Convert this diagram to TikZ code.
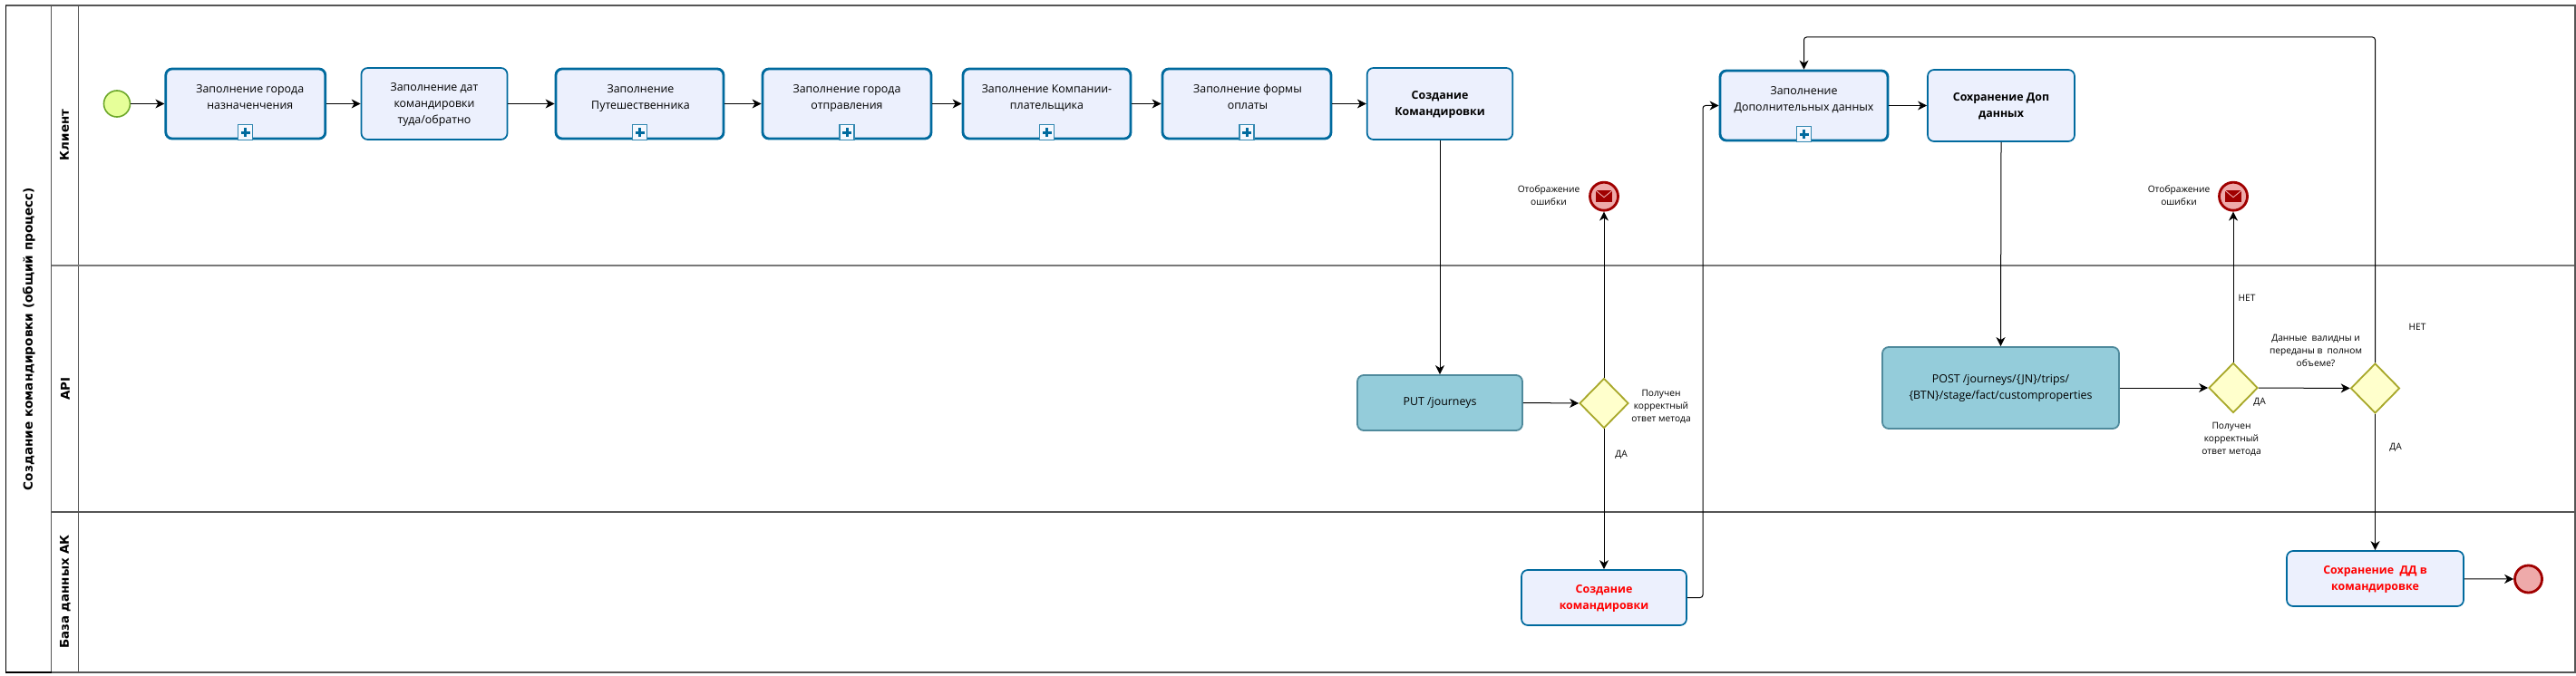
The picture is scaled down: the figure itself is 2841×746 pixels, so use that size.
\documentclass[tikz,border=0pt]{standalone}
\usepackage{fontspec}
\setmainfont{Open Sans}
\newfontfamily\hdr{DejaVu Sans}
\usetikzlibrary{arrows.meta,shapes.geometric,calc}
\definecolor{tb}{HTML}{006A9E}
\definecolor{tf}{HTML}{ECF0FD}
\definecolor{af}{HTML}{94CCDA}
\definecolor{ab}{HTML}{4F8A9C}
\definecolor{gf}{HTML}{FFFFCC}
\definecolor{gb}{HTML}{A8A82A}
\definecolor{sf}{HTML}{E6FF99}
\definecolor{sb}{HTML}{6DA82A}
\definecolor{ef}{HTML}{EEAAAA}
\definecolor{eb}{HTML}{A00000}
\definecolor{ln}{HTML}{555555}
% #1 doubled x shift, #2 doubled y lift, #3 lines
\newcommand\up[3]{\hspace*{#1pt}\begin{tabular}{@{}c@{}}#3\\[#2pt]\end{tabular}}
\tikzset{
 x=1pt,y=-1pt,
 basebox/.style={rectangle,rounded corners=7pt,fill=tf,draw=tb,inner sep=0pt,font=\fontsize{12.4}{18}\selectfont},
 subtask/.style={basebox,line width=2.8pt,minimum height=77pt},
 plaintask/.style={basebox,line width=1.7pt,minimum height=79pt},
 apitask/.style={basebox,fill=af,draw=ab,line width=1.8pt},
 marker/.style={rectangle,fill=tf!50!white,draw=tb!80,line width=1.3pt,minimum width=16pt,minimum height=17pt,inner sep=0pt},
 gate/.style={diamond,fill=gf,draw=gb,line width=1.8pt,inner sep=0pt,minimum width=54pt,minimum height=55pt},
 startev/.style={circle,fill=sf,draw=sb,line width=1.6pt,minimum size=29pt,inner sep=0pt},
 endev/.style={circle,fill=ef,draw=eb,line width=2.8pt,minimum size=30pt,inner sep=0pt},
 flow/.style={line width=1pt,draw=black,-{Stealth[length=10pt,width=10pt,inset=3pt]}},
 flowthin/.style={flow,rounded corners=3pt},
 note/.style={inner sep=0pt,align=center,font=\fontsize{10.2}{14}\selectfont},
 lanehead/.style={rotate=90,inner sep=0pt,font=\hdr\bfseries\fontsize{13.4}{15}\selectfont},
 lane/.style={draw=ln,line width=1.1pt},
}
\begin{document}
\begin{tikzpicture}
\useasboundingbox (0,0) rectangle (2841,746);
\fill[white] (0,0) rectangle (2841,746);
% pool and lanes
\coordinate (tl) at (6.5,6); \coordinate (br) at (2840,742);
\draw[lane] (56.7,6) -- (56.7,742);
\draw[lane] (86.7,6) -- (86.7,742);
\draw[draw=black!53,line width=2pt] (56.7,293) -- (2840,293);
\draw[lane] (56.7,565) -- (2840,565);
\draw[lane] (tl) rectangle (br);
\draw[black,line width=1.2pt] (6.5,6) -- (6.5,742) -- (56.7,742);
\node[rotate=90,inner sep=0pt,font=\hdr\bfseries\fontsize{13.6}{15}\selectfont] (pool) at (32,374) {Создание командировки (общий процесс)};
\node[lanehead] (l1) at (71,149) {Клиент};
\node[lanehead] (l2) at (72,429) {API};
\node[lanehead] (l3) at (72,653) {База данных АК};
% client lane
\node[startev] (start) at (129,114.5) {};
\node[subtask,minimum width=176pt] (t1) at (270.8,114.5) {\up{10}{13}{Заполнение города\\назначенчения}};
\node[plaintask,minimum width=161pt] (t2) at (479,114.5) {\up{0}{0}{Заполнение дат\\командировки\\туда/обратно}};
\node[subtask,minimum width=185pt] (t3) at (705.5,114.5) {\up{2}{13}{Заполнение\\Путешественника}};
\node[subtask,minimum width=186pt] (t4) at (934,114.5) {\up{0}{13}{Заполнение города\\отправления}};
\node[subtask,minimum width=185pt] (t5) at (1154.5,114.5) {\up{0}{13}{Заполнение Компании-\\плательщика}};
\node[subtask,minimum width=186pt] (t6) at (1375,114.5) {\up{2}{13}{Заполнение формы\\оплаты}};
\node[plaintask,minimum width=160.5pt] (t7) at (1588,114.5) {\up{0}{0}{\textbf{Создание}\\\textbf{Командировки}}};
\node[subtask,minimum width=185pt] (dop) at (1989.5,116.5) {\up{0}{13}{Заполнение\\Дополнительных данных}};
\node[plaintask,minimum width=162pt] (sv) at (2207,116.5) {\up{0}{0}{\textbf{Сохранение Доп}\\\textbf{данных}}};
\foreach \t in {t1,t3,t4,t5,t6,dop}{\node[marker,above=-1pt] (m\t) at (\t.south) {};
 \fill[tb] ($(m\t)+(-1.5,-5)$) rectangle ($(m\t)+(1.5,5)$);
 \fill[tb] ($(m\t)+(-5,-1.5)$) rectangle ($(m\t)+(5,1.5)$);}
% error events
\foreach \n/\x in {e1/1769,e2/2463}{
 \node[endev,minimum size=31pt] (\n) at (\x,216.7) {};
 \fill[eb] ($(\n)+(-9,-6.5)$) rectangle ($(\n)+(9,6.5)$);
 \draw[ef,line width=.9pt] ($(\n)+(-9,-6.5)$) -- ($(\n)+(0,1)$) -- ($(\n)+(9,-6.5)$);
}
\node[note] (ne1) at (1708,216) {Отображение\\ошибки};
\node[note] (ne2) at (2403,216) {Отображение\\ошибки};
% API lane
\node[apitask,minimum width=182pt,minimum height=61pt] (put) at (1588,444.5) {PUT /journeys};
\node[gate] (g1) at (1769,445) {};
\node[apitask,minimum width=261pt,minimum height=90pt] (post) at (2206.5,428) {\up{0}{0}{POST /journeys/\{JN\}/trips/\\\{BTN\}/stage/fact/customproperties}};
\node[gate] (g2) at (2463,428) {};
\node[gate] (g3) at (2619.5,428.5) {};
\node[note] (n1) at (1832,449) {Получен\\корректный\\ответ метода};
\node[note] (n2) at (1788,502) {ДА};
\node[note] (n3) at (2478,329) {НЕТ};
\node[note] (n4) at (2492,444) {ДА};
\node[note] (n5) at (2461,485) {Получен\\корректный\\ответ метода};
\node[note] (n6) at (2554,387) {Данные\ \ валидны и\\переданы в\ \ полном\\объеме?};
\node[note] (n7) at (2666,361) {НЕТ};
\node[note] (n8) at (2642,494) {ДА};
% DB lane
\node[plaintask,minimum width=182pt,minimum height=61pt,text=red] (cr) at (1769,659.5) {\up{0}{0}{\textbf{Создание}\\\textbf{командировки}}};
\node[plaintask,minimum width=195pt,minimum height=61pt,text=red] (sd) at (2619.5,638.5) {\up{0}{0}{\textbf{Сохранение\ \ ДД в}\\\textbf{командировке}}};
\node[endev] (end) at (2788.5,639) {};
% flows
\draw[flow] (start) -- (t1);
\draw[flow] (t1) -- (t2);
\draw[flow] (t2) -- (t3);
\draw[flow] (t3) -- (t4);
\draw[flow] (t4) -- (t5);
\draw[flow] (t5) -- (t6);
\draw[flow] (t6) -- (t7);
\draw[flow] (t7) -- (put);
\draw[flow] (put.east) -- (g1.west);
\draw[flow] (g1) -- (e1);
\draw[flow] (g1) -- (cr);
\draw[flowthin] (cr.east) -- (1878,659.5) -- (1878,116.5) -- (dop.west);
\draw[flow] (dop) -- (sv);
\draw[flow] (sv.south) -- (post.north);
\draw[flow] (post.east) -- (g2.west);
\draw[flow] (g2) -- (e2);
\draw[flow] (g2) -- (g3);
\draw[flow] (g3) -- (sd);
\draw[flow] (sd) -- (end);
\draw[flowthin] (g3.north) -- (2619.5,41) -- (1989.5,41) -- (dop.north);
\end{tikzpicture}
\end{document}
